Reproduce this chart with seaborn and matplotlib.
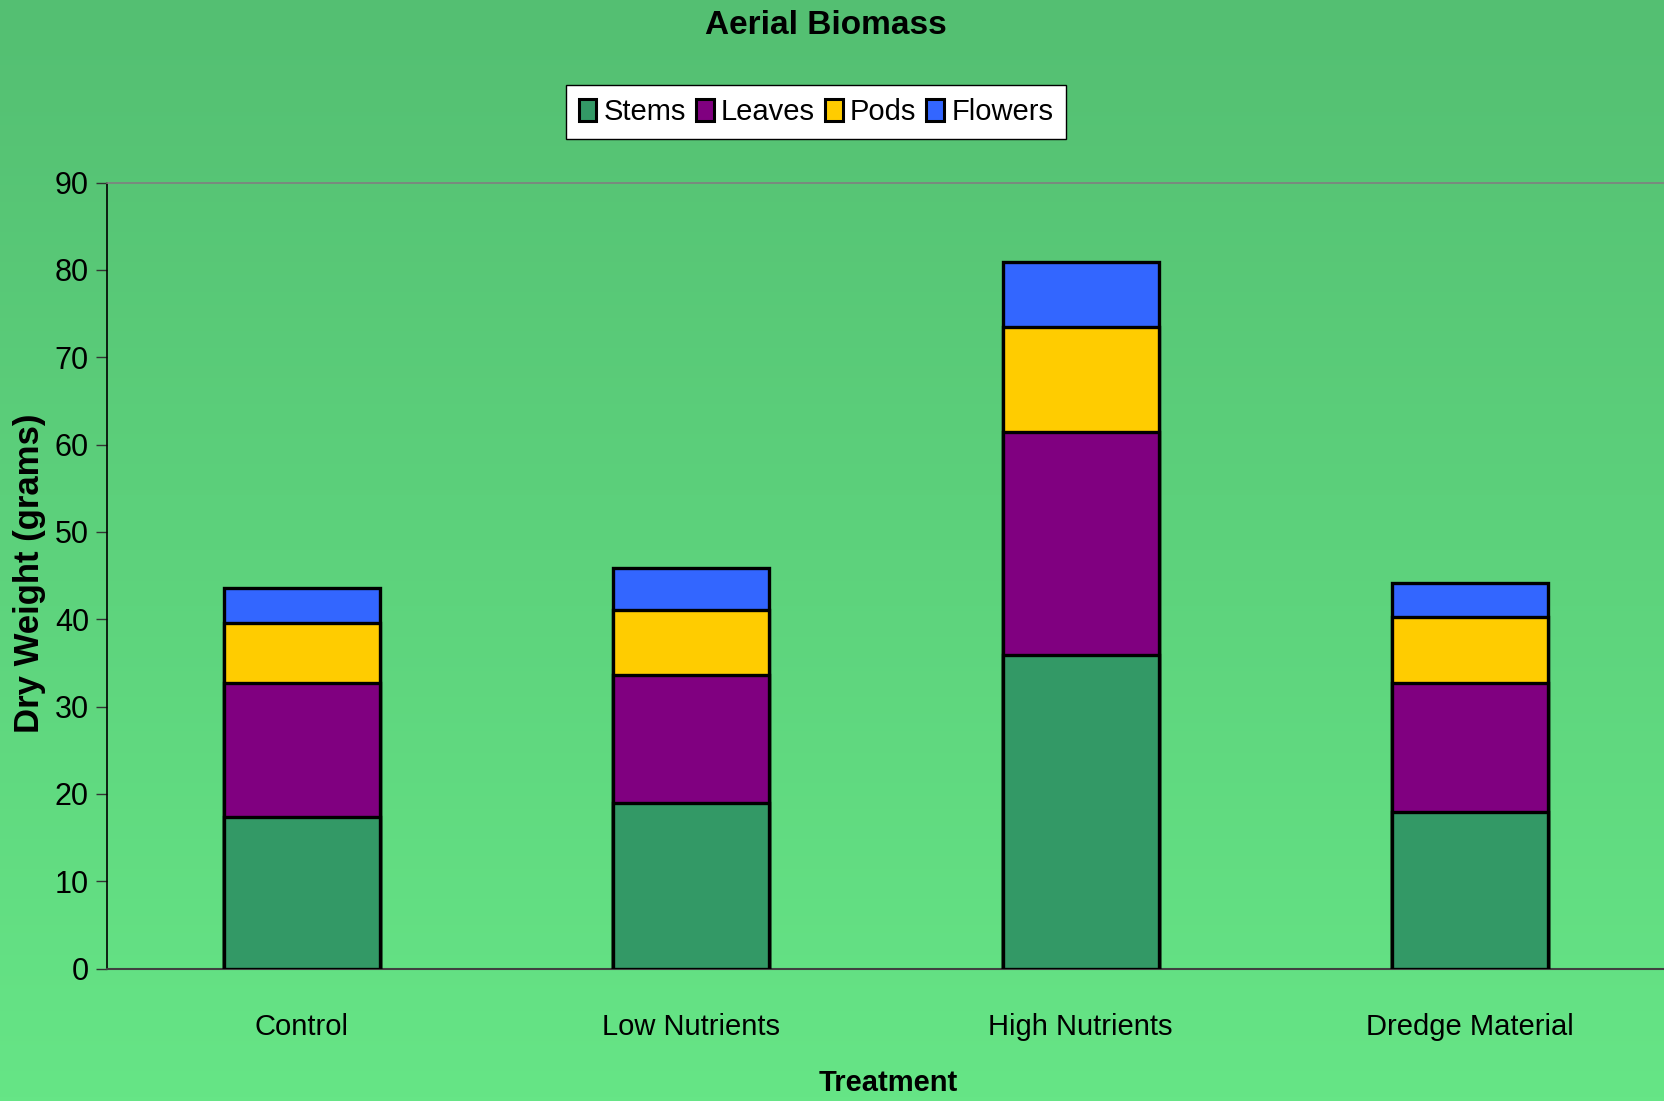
import numpy as np
import pandas as pd
import matplotlib
matplotlib.use("Agg")
import matplotlib.pyplot as plt
from matplotlib.patches import Patch
import seaborn as sns

# Dry weight per plant part for each treatment (grams)
treatments = ["Control", "Low Nutrients", "High Nutrients", "Dredge Material"]
stems = [17.3, 19.0, 35.9, 17.9]
leaves = [15.4, 14.6, 25.5, 14.8]
pods = [6.9, 7.5, 12.1, 7.6]
flowers = [4.0, 4.8, 7.4, 3.9]

parts = ["Stems", "Leaves", "Pods", "Flowers"]
part_colors = ["#339966", "#800080", "#FFCC00", "#3366FF"]
y_ticks = [0, 10, 20, 30, 40, 50, 60, 70, 80, 90]

sns.set_theme(style="white")
plt.rcParams["font.family"] = ["Liberation Sans", "DejaVu Sans"]
plt.rcParams["text.color"] = "black"
plt.rcParams["xtick.color"] = "black"
plt.rcParams["ytick.color"] = "black"
plt.rcParams["axes.labelcolor"] = "black"

W, H = 1665, 1101
fig = plt.figure(figsize=(W / 100, H / 100), dpi=100)

# vertical green gradient behind everything
bg = fig.add_axes([0, 0, 1, 1], zorder=-10)
top_rgb = np.array([84, 191, 114]) / 255.0
bot_rgb = np.array([102, 229, 134]) / 255.0
t = np.linspace(0, 1, 256)[:, None]
grad = (top_rgb * (1 - t) + bot_rgb * t)[:, None, :]
bg.imshow(grad, aspect="auto", extent=[0, 1, 0, 1])
bg.set_axis_off()

ax = fig.add_axes([107 / W, 1 - 968.5 / H, (W - 107) / W, (968.5 - 182.6) / H])
ax.set_facecolor("none")

df = pd.DataFrame({"Treatment": treatments, "Stems": stems, "Leaves": leaves,
                   "Pods": pods, "Flowers": flowers})
cum = df[parts].cumsum(axis=1)

# stacked bars: draw cumulative totals from the top segment down
for part, color in reversed(list(zip(parts, part_colors))):
    sns.barplot(x=df["Treatment"], y=cum[part], color=color, width=0.40,
                edgecolor="black", linewidth=2.4, saturation=1, ax=ax, zorder=3)

ax.set_xlim(-0.5, 3.5)
ax.set_ylim(0, 90)
ax.set_yticks(y_ticks)
ax.set_yticklabels([str(v) for v in y_ticks], fontsize=22)

ax.set_xticks([0, 1, 2, 3])
ax.set_xticklabels(treatments, fontsize=21)
ax.set_xticks([-0.5, 0.5, 1.5, 2.5], minor=True)
ax.tick_params(axis="x", which="major", length=0, pad=32)
ax.tick_params(axis="x", which="minor", length=8, width=1, color="#333333", direction="out")
ax.tick_params(axis="y", length=8, width=1, color="#333333", direction="out", pad=5, left=True)

ax.spines["right"].set_visible(False)
ax.spines["top"].set_color("#808080")
ax.spines["top"].set_linewidth(1.2)
ax.spines["left"].set_color("black")
ax.spines["left"].set_linewidth(1.2)
ax.spines["bottom"].set_color("#404040")
ax.spines["bottom"].set_linewidth(1.5)

ax.set_xlabel("")
ax.set_ylabel("")
fig.text(888 / W, 1 - 1083 / H, "Treatment", ha="center", va="center",
         fontsize=21, fontweight="bold")
fig.text(30 / W, 1 - 573 / H, "Dry Weight (grams)", ha="center", va="center",
         rotation=90, fontsize=25, fontweight="bold")
fig.text(826 / W, 1 - 26 / H, "Aerial Biomass", ha="center", va="center",
         fontsize=24, fontweight="bold")

handles = [Patch(facecolor=c, edgecolor="black", linewidth=2.2) for c in part_colors]
leg = fig.legend(handles, parts, loc="center", bbox_to_anchor=(816 / W, 1 - 112 / H),
                 ncol=4, fontsize=21, frameon=True, fancybox=False, edgecolor="black",
                 handlelength=0.6, handleheight=0.8, handletextpad=0.25, columnspacing=0.35,
                 borderpad=0.45, borderaxespad=0)
leg.get_frame().set_facecolor("white")
leg.get_frame().set_alpha(1)
leg.get_frame().set_linewidth(1.0)

fig.savefig("out.png", dpi=100)
